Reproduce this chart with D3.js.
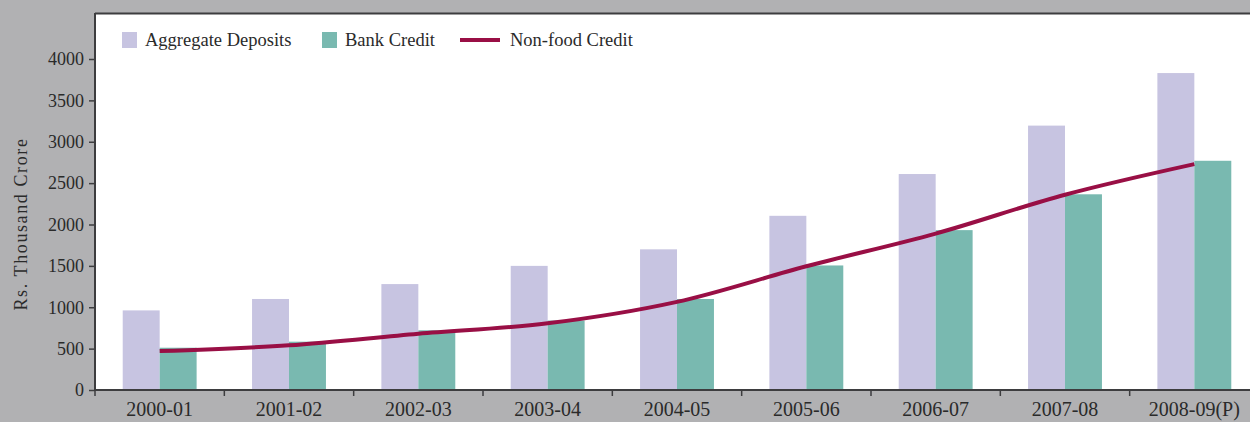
<!DOCTYPE html>
<html>
<head>
<meta charset="utf-8">
<script src="https://cdn.jsdelivr.net/npm/d3@7"></script>
<style>
  body { margin: 0; background: #b1b1b3; }
  svg { display: block; }
</style>
</head>
<body>
<div id="chart"></div>
<script>
// Chart data
var years = ["2000-01", "2001-02", "2002-03", "2003-04", "2004-05", "2005-06", "2006-07", "2007-08", "2008-09(P)"];
var aggregateDeposits = [962, 1100, 1280, 1500, 1700, 2105, 2610, 3195, 3830];
var bankCredit = [511, 584, 722, 840, 1100, 1505, 1932, 2365, 2770];
var nonFoodCredit = [470, 540, 680, 806, 1065, 1495, 1890, 2360, 2730];
var yTicks = [0, 500, 1000, 1500, 2000, 2500, 3000, 3500, 4000];
var seriesNames = ["Aggregate Deposits", "Bank Credit", "Non-food Credit"];

var svgWidth = 1250;
var svgHeight = 422;

var margin = {
  top: 14,
  left: 95,
  bottom: 390
};

var colors = {
  deposits: "#c7c4e1",
  credit: "#79b9b0",
  line: "#990f45",
  axis: "#3d3d3f",
  text: "#2a2a2a"
};

var font = "'Liberation Serif', 'Times New Roman', serif";

var svg = d3.select("#chart")
  .append("svg")
  .attr("width", svgWidth)
  .attr("height", svgHeight);

// scales
var x0 = d3.scaleBand()
  .domain(years)
  .range([margin.left, 1259])
  .paddingInner(0)
  .paddingOuter(0);

var x1 = d3.scaleBand()
  .domain(["dep", "cred"])
  .range([0, x0.bandwidth()])
  .paddingInner(0)
  .paddingOuter(0.75);

var y = d3.scaleLinear()
  .domain([0, 4000])
  .range([margin.bottom, 59]);

// white plot area
svg.append("rect")
  .attr("x", margin.left)
  .attr("y", margin.top)
  .attr("width", svgWidth - margin.left)
  .attr("height", margin.bottom - margin.top)
  .attr("fill", "white");

// top border
svg.append("line")
  .attr("x1", margin.left)
  .attr("x2", svgWidth)
  .attr("y1", margin.top - 0.5)
  .attr("y2", margin.top - 0.5)
  .attr("stroke", colors.axis)
  .attr("stroke-width", 2);

// bars
var groups = svg.selectAll(".yr")
  .data(years)
  .enter()
  .append("g")
  .attr("class", "yr")
  .attr("transform", d => `translate(${x0(d)},0)`);

groups.append("rect")
  .attr("x", x1("dep"))
  .attr("y", (d, i) => y(aggregateDeposits[i]))
  .attr("width", x1.bandwidth())
  .attr("height", (d, i) => y(0) - y(aggregateDeposits[i]))
  .attr("fill", colors.deposits);

groups.append("rect")
  .attr("x", x1("cred"))
  .attr("y", (d, i) => y(bankCredit[i]))
  .attr("width", x1.bandwidth())
  .attr("height", (d, i) => y(0) - y(bankCredit[i]))
  .attr("fill", colors.credit);

// non-food credit line
var drawLine = d3.line()
  .x((d, i) => x0(years[i]) + x0.bandwidth() / 2)
  .y(d => y(d))
  .curve(d3.curveCatmullRom.alpha(0.5));

svg.append("path")
  .attr("d", drawLine(nonFoodCredit))
  .attr("fill", "none")
  .attr("stroke", colors.line)
  .attr("stroke-width", 4)
  .attr("stroke-linejoin", "round");

// left axis
var leftAxis = svg.append("g")
  .attr("transform", `translate(${margin.left},0)`)
  .call(d3.axisLeft(y).tickValues(yTicks).tickFormat(d3.format("d")).tickSize(6).tickPadding(5).tickSizeOuter(0));

leftAxis.select(".domain").remove();
leftAxis.append("line")
  .attr("y1", margin.top - 1)
  .attr("y2", margin.bottom)
  .attr("stroke", colors.axis)
  .attr("stroke-width", 2);
leftAxis.selectAll(".tick line").attr("stroke", colors.axis).attr("stroke-width", 1.5);
leftAxis.selectAll(".tick text")
  .attr("font-family", font)
  .attr("font-size", "18px")
  .attr("fill", colors.text);

// bottom axis
var bottomAxis = svg.append("g")
  .attr("transform", `translate(0,${margin.bottom})`)
  .call(d3.axisBottom(x0).tickSize(0).tickPadding(12));

bottomAxis.select(".domain").remove();
bottomAxis.append("line")
  .attr("x1", margin.left)
  .attr("x2", svgWidth)
  .attr("stroke", colors.axis)
  .attr("stroke-width", 2);
bottomAxis.selectAll(".tick text")
  .attr("font-family", font)
  .attr("font-size", "20px")
  .attr("fill", colors.text);

// ticks at band boundaries
bottomAxis.selectAll(".bound")
  .data(years)
  .enter()
  .append("line")
  .attr("class", "bound")
  .attr("x1", d => x0(d))
  .attr("x2", d => x0(d))
  .attr("y1", 0)
  .attr("y2", 6)
  .attr("stroke", colors.axis)
  .attr("stroke-width", 1.5);

// y axis title
svg.append("text")
  .attr("transform", `translate(27, ${224}) rotate(-90)`)
  .attr("text-anchor", "middle")
  .attr("font-family", font)
  .attr("font-size", "18px")
  .attr("letter-spacing", "1.6px")
  .attr("fill", colors.text)
  .text("Rs. Thousand Crore");

// legend
var legend = svg.append("g");

legend.append("rect")
  .attr("x", 122).attr("y", 32)
  .attr("width", 15).attr("height", 16)
  .attr("fill", colors.deposits);
legend.append("text")
  .attr("x", 145).attr("y", 46)
  .attr("font-family", font).attr("font-size", "18.5px")
  .attr("fill", colors.text)
  .text(seriesNames[0]);

legend.append("rect")
  .attr("x", 322).attr("y", 32)
  .attr("width", 15).attr("height", 16)
  .attr("fill", colors.credit);
legend.append("text")
  .attr("x", 345).attr("y", 46)
  .attr("font-family", font).attr("font-size", "18.5px")
  .attr("fill", colors.text)
  .text(seriesNames[1]);

legend.append("line")
  .attr("x1", 460).attr("x2", 500)
  .attr("y1", 40).attr("y2", 40)
  .attr("stroke", colors.line)
  .attr("stroke-width", 4);
legend.append("text")
  .attr("x", 510).attr("y", 46)
  .attr("font-family", font).attr("font-size", "18.5px")
  .attr("fill", colors.text)
  .text(seriesNames[2]);
</script>
</body>
</html>
